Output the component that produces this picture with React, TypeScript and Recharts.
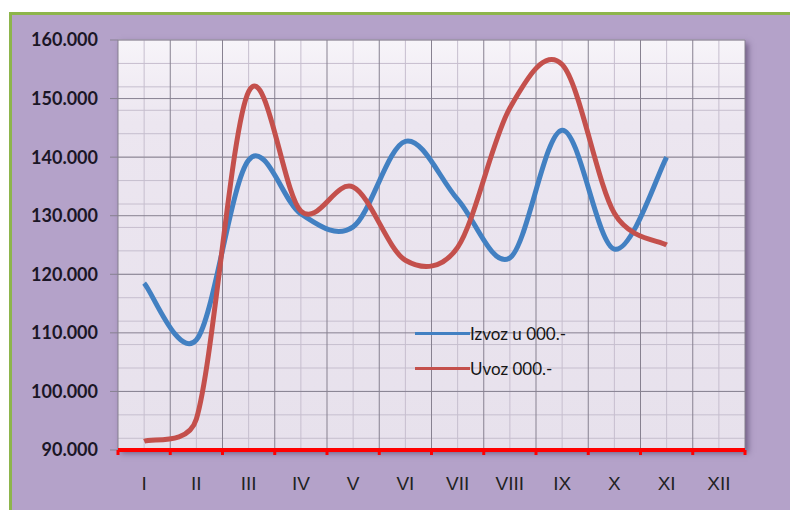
import React from "react";
import { LineChart, Line, XAxis, YAxis, CartesianGrid, Legend } from "recharts";

const months = ["I", "II", "III", "IV", "V", "VI", "VII", "VIII", "IX", "X", "XI", "XII"];
const izvoz = [118500, 108800, 139500, 130300, 128100, 142700, 132800, 122800, 144600, 124300, 140000, null];
const uvoz = [91500, 95300, 151200, 130800, 134900, 122400, 124600, 148400, 155800, 130400, 125000, null];

const yTicks = [90000, 100000, 110000, 120000, 130000, 140000, 150000, 160000];
const yMinor = [
  90000, 92000, 94000, 96000, 98000, 100000, 102000, 104000, 106000, 108000, 110000, 112000, 114000, 116000, 118000,
  120000, 122000, 124000, 126000, 128000, 130000, 132000, 134000, 136000, 138000, 140000, 142000, 144000, 146000,
  148000, 150000, 152000, 154000, 156000, 158000, 160000,
];

const data = months.map((m, i) => ({ month: m, izvoz: izvoz[i], uvoz: uvoz[i] }));

const W = 790;
const H = 510;
const M = { top: 40, right: 45, left: 0, bottom: 10 };
const Y_W = 118;
const PLOT_W = W - M.right - Y_W;
const HALF = PLOT_W / months.length / 2;

const fmt = (v: number) => String(v).replace(/(\d)(?=(\d{3})+$)/g, "$1.");

// Excel-like smoothed line: Catmull-Rom bezier, arms capped at half the segment
function smoothCurve(context: any) {
  let pts: number[][] = [];
  const dist = (a: number[], b: number[]) => Math.hypot(a[0] - b[0], a[1] - b[1]);
  return {
    areaStart() {},
    areaEnd() {},
    lineStart() {
      pts = [];
    },
    point(x: number, y: number) {
      pts.push([+x, +y]);
    },
    lineEnd() {
      if (!pts.length) return;
      context.moveTo(pts[0][0], pts[0][1]);
      for (let i = 0; i < pts.length - 1; i++) {
        const p1 = pts[i];
        const p2 = pts[i + 1];
        const p0 = pts[i - 1] || p1;
        const p3 = pts[i + 2] || p2;
        const d12 = dist(p1, p2);
        const d02 = dist(p0, p2) || 1;
        const d13 = dist(p1, p3) || 1;
        let f1 = 1 / 6;
        let f2 = 1 / 6;
        if (d02 * f1 > d12 / 2) f1 = d12 / (2 * d02);
        if (d13 * f2 > d12 / 2) f2 = d12 / (2 * d13);
        context.bezierCurveTo(
          p1[0] + (p2[0] - p0[0]) * f1,
          p1[1] + (p2[1] - p0[1]) * f1,
          p2[0] - (p3[0] - p1[0]) * f2,
          p2[1] - (p3[1] - p1[1]) * f2,
          p2[0],
          p2[1]
        );
      }
    },
  };
}

// grid lines at band centres (minor) and band edges (major)
const midLines = ({ offset }: any) => months.map((_, i) => offset.left + (offset.width * (i + 0.5)) / months.length);
const edgeLines = ({ offset }: any) => [...months.map((_, i) => offset.left + (offset.width * i) / months.length), offset.left + offset.width];

function MonthTick({ x, y, payload, index }: any) {
  const last = index === months.length - 1;
  return (
    <g>
      <line x1={x - HALF} x2={x - HALF} y1={y} y2={y + 5} stroke="#ff0000" strokeWidth={3} />
      {last && <line x1={x + HALF} x2={x + HALF} y1={y} y2={y + 5} stroke="#ff0000" strokeWidth={3} />}
      <text
        x={x}
        y={y + 40}
        textAnchor="middle"
        fill="#222"
        fontSize={19}
        fontFamily="'Liberation Sans Narrow', 'Liberation Sans', sans-serif"
      >
        {payload.value}
      </text>
    </g>
  );
}

function LegendBox({ payload }: any) {
  return (
    <div style={{ fontFamily: "Lato, sans-serif", fontSize: 17, color: "#151515" }}>
      {(payload || []).map((p: any) => (
        <div key={p.value} style={{ display: "flex", alignItems: "center", height: 35 }}>
          <span style={{ width: 55, height: 3, background: p.color, display: "inline-block" }} />
          <span>{p.value}</span>
        </div>
      ))}
    </div>
  );
}

export default function App() {
  return (
    <div style={{ position: "absolute", left: 0, top: 0, width: W, height: H, background: "#fff", overflow: "hidden" }}>
      <div
        style={{
          position: "absolute",
          left: 9,
          top: 12,
          width: W,
          height: H,
          background: "#b4a2c9",
          borderLeft: "3px solid #8db54b",
          borderTop: "3px solid #8db54b",
        }}
      />
      <div
        style={{
          position: "absolute",
          left: Y_W,
          top: M.top,
          width: PLOT_W,
          height: H - M.top - M.bottom - 50,
          background: "#e8e2ed",
          boxShadow: "3px 3px 6px rgba(50,30,70,0.55)",
        }}
      />
      <div style={{ position: "absolute", left: 0, top: 0 }}>
        <LineChart width={W} height={H} data={data} margin={M}>
          <defs>
            <linearGradient id="plotBg" x1="0" y1="0" x2="0" y2="1">
              <stop offset="0%" stopColor="#f7f4f9" />
              <stop offset="20%" stopColor="#ece6f0" />
              <stop offset="100%" stopColor="#e7e1ec" />
            </linearGradient>
          </defs>
          <CartesianGrid
            fill="url(#plotBg)"
            stroke="#c6bece"
            strokeWidth={1}
            verticalCoordinatesGenerator={midLines}
            horizontalValues={yMinor}
          />
          <CartesianGrid
            stroke="#878190"
            strokeWidth={1}
            verticalCoordinatesGenerator={edgeLines}
            horizontalValues={yTicks}
          />
          <XAxis
            dataKey="month"
            scale="band"
            height={50}
            axisLine={{ stroke: "#ff0000", strokeWidth: 4 }}
            tickLine={false}
            tickSize={0}
            tickMargin={0}
            interval={0}
            tick={<MonthTick />}
          />
          <YAxis
            width={Y_W}
            domain={[90000, 160000]}
            ticks={yTicks}
            tickFormatter={fmt}
            axisLine={false}
            tickLine={{ stroke: "#878190" }}
            tickSize={8}
            tickMargin={12}
            tick={{ fill: "#1b1626", fontSize: 18, fontWeight: 700, fontFamily: "Lato, sans-serif" }}
          />
          <Legend
            layout="vertical"
            align="center"
            verticalAlign="middle"
            content={<LegendBox />}
            wrapperStyle={{ position: "absolute", left: 415, top: 316, width: 200, height: 80 }}
          />
          <Line
            name="Izvoz u 000.-"
            dataKey="izvoz"
            type={smoothCurve as any}
            stroke="#4280c2"
            strokeWidth={5}
            dot={false}
            activeDot={false}
            isAnimationActive={false}
          />
          <Line
            name="Uvoz 000.-"
            dataKey="uvoz"
            type={smoothCurve as any}
            stroke="#c4504c"
            strokeWidth={5}
            dot={false}
            activeDot={false}
            isAnimationActive={false}
          />
        </LineChart>
      </div>
    </div>
  );
}
